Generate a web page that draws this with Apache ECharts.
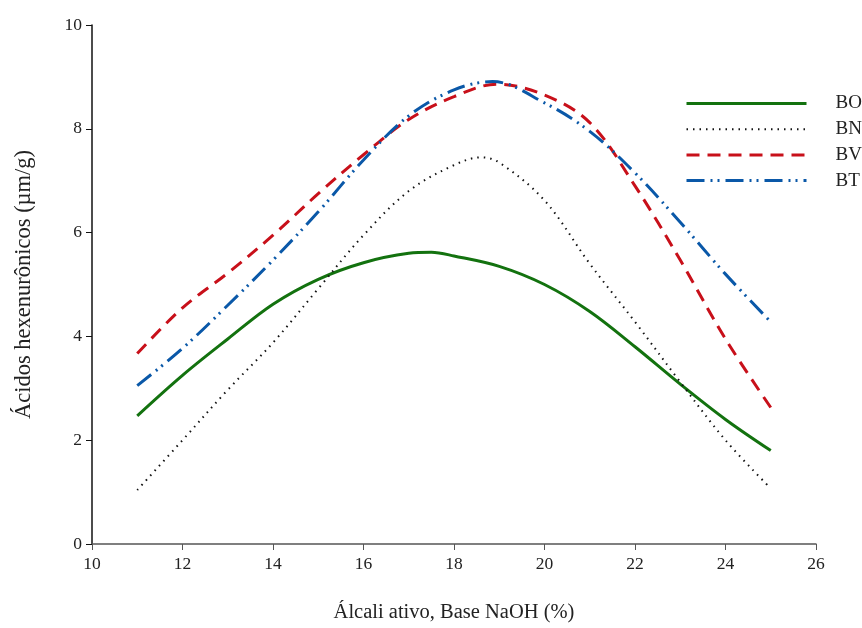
<!DOCTYPE html>
<html><head><meta charset="utf-8">
<script src="https://cdn.jsdelivr.net/npm/echarts@6/dist/echarts.min.js"></script>
<style>html,body{margin:0;padding:0;background:#fff}#c{width:862px;height:628px}</style>
</head><body><div id="c"></div>
<script>
const xBO = [11, 12, 13, 14, 15, 16, 17, 17.5, 18, 19, 20, 21, 22, 23, 24, 25];
const yBO = [2.47, 3.25, 3.95, 4.62, 5.1, 5.42, 5.6, 5.62, 5.55, 5.35, 5.0, 4.48, 3.8, 3.08, 2.4, 1.8];
const xBN = [11, 12, 13, 14, 15, 16, 17, 18, 18.6, 19, 20, 21, 22, 23, 24, 25];
const yBN = [1.04, 2.0, 2.97, 3.88, 4.92, 5.95, 6.8, 7.3, 7.45, 7.35, 6.62, 5.4, 4.28, 3.12, 2.0, 1.07];
const xBV = [11, 12, 13, 14, 15, 16, 17, 18, 18.95, 20, 21, 22, 23, 24, 25];
const yBV = [3.67, 4.55, 5.22, 5.95, 6.75, 7.5, 8.18, 8.62, 8.86, 8.65, 8.12, 6.9, 5.47, 3.95, 2.63];
const xBT = [11, 12, 13, 14, 15, 16, 17, 18, 18.85, 20, 21, 22, 23, 24, 25];
const yBT = [3.05, 3.77, 4.6, 5.47, 6.4, 7.4, 8.25, 8.75, 8.91, 8.5, 7.95, 7.15, 6.2, 5.2, 4.28];
const xTicks = [10, 12, 14, 16, 18, 20, 22, 24, 26];
const yTicks = [0, 2, 4, 6, 8, 10];

const pairs = (xs, ys) => xs.map((x, i) => [x, ys[i]]);
const FONT = 'Liberation Serif';
const chart = echarts.init(document.getElementById('c'));
const mk = (name, xs, ys, color, type, width) => ({
  name, type: 'line', data: pairs(xs, ys), smooth: 0.35, showSymbol: false, symbol: 'none',
  lineStyle: { color, type, width }, itemStyle: { color }
});
chart.setOption({
  animation: false,
  backgroundColor: '#fff',
  grid: { left: 92, right: 46, top: 25, bottom: 84 },
  xAxis: {
    type: 'value', min: xTicks[0], max: xTicks[xTicks.length - 1], interval: 2,
    name: 'Álcali ativo, Base NaOH (%)', nameLocation: 'middle', nameGap: 58,
    nameTextStyle: { fontFamily: FONT, fontSize: 20.5, color: '#222' },
    axisLine: { lineStyle: { color: '#555', width: 1.5 } },
    axisTick: { show: true, length: 6, lineStyle: { color: '#555' } },
    axisLabel: { fontFamily: FONT, fontSize: 17.5, color: '#222', margin: 11 },
    splitLine: { show: false }
  },
  yAxis: {
    type: 'value', min: yTicks[0], max: yTicks[yTicks.length - 1], interval: 2,
    name: 'Ácidos hexenurônicos (µm/g)', nameLocation: 'middle', nameGap: 56,
    nameTextStyle: { fontFamily: FONT, fontSize: 22.5, color: '#222' },
    axisLine: { show: true, lineStyle: { color: '#111', width: 1.5 } },
    axisTick: { show: true, length: 6, lineStyle: { color: '#111' } },
    axisLabel: { fontFamily: FONT, fontSize: 17.5, color: '#222', margin: 10 },
    splitLine: { show: false }
  },
  legend: {
    orient: 'vertical', left: 680, top: 89, itemWidth: 120, itemHeight: 14, itemGap: 6.7,
    itemStyle: { opacity: 0 },
    lineStyle: { width: 3 },
    textStyle: { fontFamily: FONT, fontSize: 19, color: '#222', padding: [0, 0, 0, 24] },
    data: ['BO', { name: 'BN', lineStyle: { width: 2 } }, 'BV', 'BT']
  },
  series: [
    mk('BO', xBO, yBO, '#13720f', 'solid', 3),
    mk('BN', xBN, yBN, '#111', [1.5, 5], 2),
    mk('BV', xBV, yBV, '#c8101a', [13, 8], 3),
    mk('BT', xBT, yBT, '#0a58a8', [18, 6, 2, 5, 2, 6], 3)
  ]
});
</script></body></html>
